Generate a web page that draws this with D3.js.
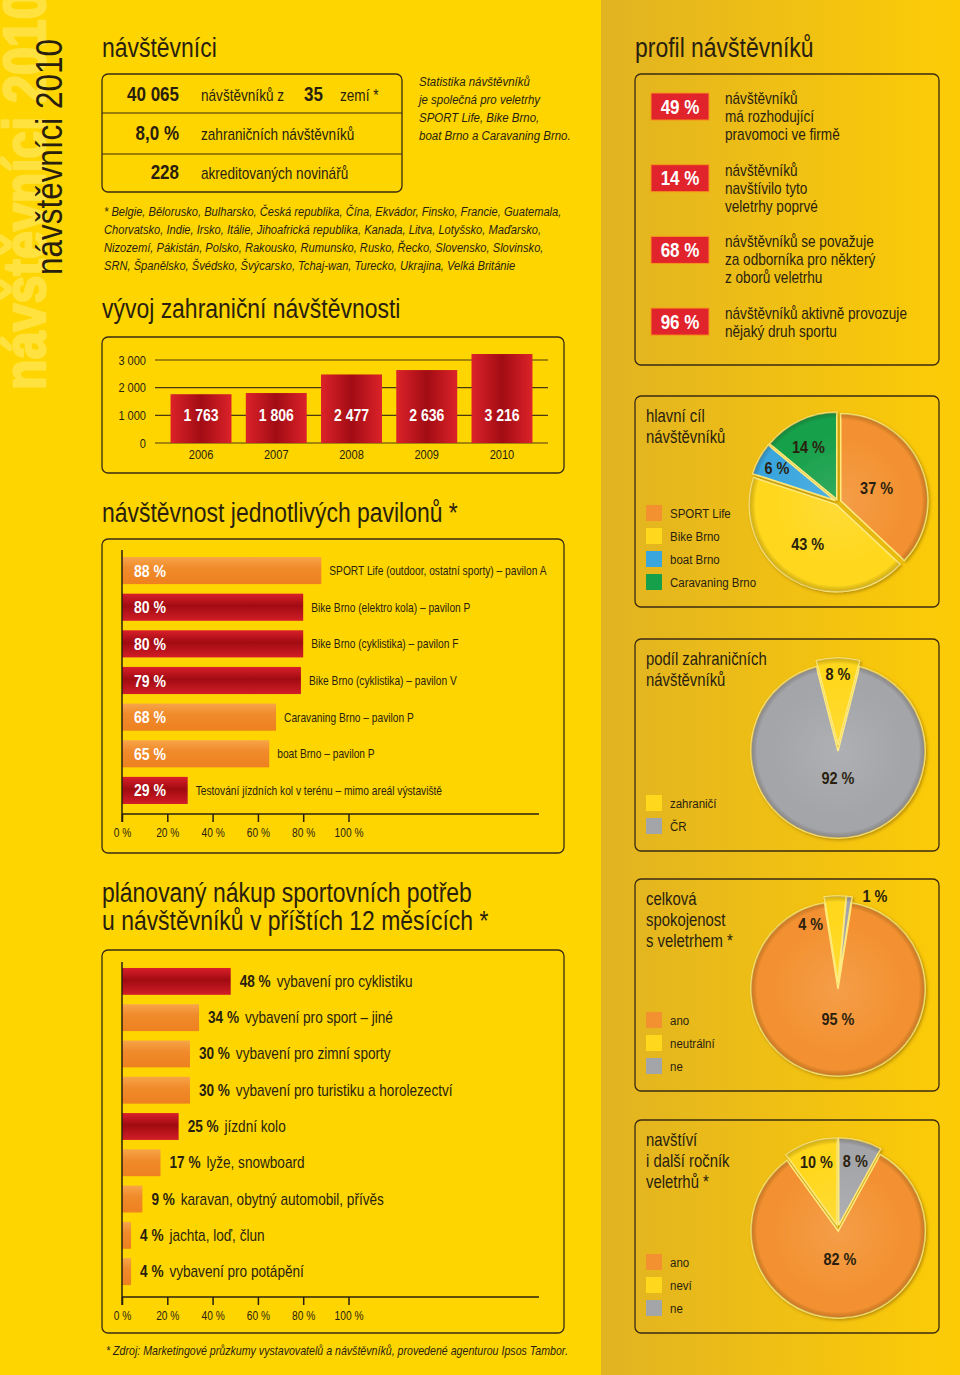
<!DOCTYPE html>
<html>
<head>
<meta charset="utf-8">
<script src="https://cdnjs.cloudflare.com/ajax/libs/d3/7.8.5/d3.min.js"></script>
<style>
body { margin: 0; background: #FFD500; }
svg { display: block; font-family: "Liberation Sans", Arial, Helvetica, sans-serif; }
</style>
</head>
<body>
<div id="sheet"></div>
<script>
var statNumbers = ["40 065", "8,0 %", "228"];
var statTexts = ["návštěvníků z", "zahraničních návštěvníků", "akreditovaných novinářů"];
var countryCount = "35";
var statNote = ["Statistika návštěvníků", "je společná pro veletrhy", "SPORT Life, Bike Brno,", "boat Brno a Caravaning Brno."];
var countryLines = [
  "* Belgie, Bělorusko, Bulharsko, Česká republika, Čína, Ekvádor, Finsko, Francie, Guatemala,",
  "Chorvatsko, Indie, Irsko, Itálie, Jihoafrická republika, Kanada, Litva, Lotyšsko, Maďarsko,",
  "Nizozemí, Pákistán, Polsko, Rakousko, Rumunsko, Rusko, Řecko, Slovensko, Slovinsko,",
  "SRN, Španělsko, Švédsko, Švýcarsko, Tchaj-wan, Turecko, Ukrajina, Velká Británie"
];

var years = ["2006", "2007", "2008", "2009", "2010"];
var foreignVisitors = [1763, 1806, 2477, 2636, 3216];
var visitorTicks = [0, 1000, 2000, 3000];

var pavilionNames = [
  "SPORT Life (outdoor, ostatní sporty) – pavilon A",
  "Bike Brno (elektro kola) – pavilon P",
  "Bike Brno (cyklistika) – pavilon F",
  "Bike Brno (cyklistika) – pavilon V",
  "Caravaning Brno – pavilon P",
  "boat Brno – pavilon P",
  "Testování jízdních kol v terénu – mimo areál výstaviště"
];
var pavilionValues = [88, 80, 80, 79, 68, 65, 29];
var pavilionBike = [false, true, true, true, false, false, true];

var purchaseNames = [
  "vybavení pro cyklistiku",
  "vybavení pro sport – jiné",
  "vybavení pro zimní sporty",
  "vybavení pro turistiku a horolezectví",
  "jízdní kolo",
  "lyže, snowboard",
  "karavan, obytný automobil, přívěs",
  "jachta, loď, člun",
  "vybavení pro potápění"
];
var purchaseValues = [48, 34, 30, 30, 25, 17, 9, 4, 4];
var purchaseBike = [true, false, false, false, true, false, false, false, false];

var percentTicks = [0, 20, 40, 60, 80, 100];

var profileValues = [49, 14, 68, 96];
var profileTexts = [
  ["návštěvníků", "má rozhodující", "pravomoci ve firmě"],
  ["návštěvníků", "navštívilo tyto", "veletrhy poprvé"],
  ["návštěvníků se považuje", "za odborníka pro některý", "z oborů veletrhu"],
  ["návštěvníků aktivně provozuje", "nějaký druh sportu"]
];

var goalNames = ["SPORT Life", "Bike Brno", "boat Brno", "Caravaning Brno"];
var goalValues = [37, 43, 6, 14];
var shareNames = ["zahraničí", "ČR"];
var shareValues = [8, 92];
var satisfactionNames = ["ano", "neutrální", "ne"];
var satisfactionValues = [95, 4, 1];
var returnNames = ["ano", "neví", "ne"];
var returnValues = [82, 10, 8];

// ---- look ----
var ink = "#2a1f0e";
var narrow = 0.85;   // condensed look
var orange = "#F39130", yellow = "#FFD71C", blue = "#3AA6DE", green = "#17A04A", grey = "#A4A5A9";

var svg = d3.select("#sheet").append("svg").attr("width", 960).attr("height", 1375);
var defs = svg.append("defs");

function linGrad(id, x2, y2, stops) {
  var g = defs.append("linearGradient").attr("id", id)
    .attr("x1", 0).attr("y1", 0).attr("x2", x2).attr("y2", y2);
  stops.forEach(function(s) { g.append("stop").attr("offset", s[0]).attr("stop-color", s[1]); });
}
linGrad("rightBg", 1, 0, [[0, "#E1B322"], [1, "#FDCC06"]]);
linGrad("redCol", 1, 0, [[0, "#DC2229"], [0.5, "#A20C14"], [1, "#DC2229"]]);
linGrad("redRow", 0, 1, [[0, "#D91F2A"], [0.45, "#A10B12"], [1, "#D21D27"]]);
linGrad("orangeRow", 0, 1, [[0, "#F7A548"], [0.4, "#F08B2C"], [1, "#EE801F"]]);

var shade = defs.append("radialGradient").attr("id", "pieShade")
  .attr("gradientUnits", "userSpaceOnUse").attr("cx", 0).attr("cy", 0).attr("r", 88);
shade.append("stop").attr("offset", 0).attr("stop-color", "#fff").attr("stop-opacity", 0.12);
shade.append("stop").attr("offset", 0.75).attr("stop-color", "#fff").attr("stop-opacity", 0);
shade.append("stop").attr("offset", 0.92).attr("stop-color", "#000").attr("stop-opacity", 0);
shade.append("stop").attr("offset", 1).attr("stop-color", "#5a3a00").attr("stop-opacity", 0.3);

var shadow = defs.append("filter").attr("id", "pieShadow").attr("x", "-20%").attr("y", "-20%").attr("width", "140%").attr("height", "140%");
shadow.append("feDropShadow").attr("dx", 1.5).attr("dy", 1.5).attr("stdDeviation", 1.5)
  .attr("flood-color", "#6b4a00").attr("flood-opacity", 0.45);

// backgrounds
svg.append("rect").attr("width", 601).attr("height", 1375).attr("fill", "#FFD500");
svg.append("rect").attr("x", 601).attr("width", 359).attr("height", 1375).attr("fill", "url(#rightBg)");

function txt(parent, x, y, s, size, opt) {
  opt = opt || {};
  return parent.append("text")
    .attr("transform", "translate(" + x + "," + y + ") scale(" + narrow + ",1)")
    .attr("font-size", size)
    .attr("font-weight", opt.weight || "normal")
    .attr("font-style", opt.italic ? "italic" : "normal")
    .attr("text-anchor", opt.anchor || "start")
    .attr("fill", opt.fill || ink)
    .text(s);
}

function box(x0, y0, x1, y1) {
  svg.append("rect").attr("x", x0).attr("y", y0)
    .attr("width", x1 - x0).attr("height", y1 - y0).attr("rx", 6)
    .attr("fill", "none").attr("stroke", "#3a2b12").attr("stroke-width", 1.3);
}

// vertical title on the left edge (the pale one runs off the top like in print)
svg.append("text")
  .attr("transform", "translate(45,390) rotate(-90) scale(" + narrow + ",1)")
  .attr("font-size", 59).attr("font-weight", "bold").attr("fill", "#FFE23F")
  .attr("stroke", "#FFE23F").attr("stroke-width", 2.5).attr("stroke-linejoin", "round")
  .text("návštěvníci 2010");
svg.append("text")
  .attr("transform", "translate(62,275) rotate(-90) scale(" + narrow + ",1)")
  .attr("font-size", 37).attr("fill", ink)
  .text("návštěvníci 2010");

// headings
txt(svg, 102, 57, "návštěvníci", 27);
txt(svg, 102, 318, "vývoj zahraniční návštěvnosti", 27);
txt(svg, 102, 522, "návštěvnost jednotlivých pavilonů *", 27);
txt(svg, 102, 902, "plánovaný nákup sportovních potřeb", 27);
txt(svg, 102, 930, "u návštěvníků v příštích 12 měsících *", 27);
txt(svg, 635, 57, "profil návštěvníků", 27);

// ---- key numbers ----
box(102, 74, 402, 192);
[113, 154].forEach(function(y) {
  svg.append("line").attr("x1", 102).attr("x2", 402).attr("y1", y).attr("y2", y)
    .attr("stroke", "#3a2b12").attr("stroke-width", 1.2);
});
var statY = d3.scaleBand().domain(d3.range(3)).range([74, 192]);
statNumbers.forEach(function(n, i) {
  var base = statY(i) + statY.bandwidth() / 2 + 7;
  txt(svg, 179, base, n, 20, {weight: "bold", anchor: "end"});
  txt(svg, 201, base, statTexts[i], 16);
  if (i == 0) {
    txt(svg, 304, base, countryCount, 20, {weight: "bold"});
    txt(svg, 340, base, "zemí *", 16);
  }
});
statNote.forEach(function(s, i) { txt(svg, 419, 86 + i * 18, s, 13.5, {italic: true}); });
countryLines.forEach(function(s, i) { txt(svg, 104, 216 + i * 18, s, 13.1, {italic: true}); });

// ---- foreign visitors by year ----
box(102, 337, 564, 473);
var fmt = d3.formatLocale({decimal: ",", thousands: " ", grouping: [3], currency: ["", ""]}).format(",");
var xYear = d3.scaleBand().domain(years).range([163.4, 539.6]).paddingInner(0.19).paddingOuter(0.095);
var yVis = d3.scaleLinear().domain([0, 3000]).range([443, 360]);

var gV = svg.append("g");
gV.selectAll(".grid").data(visitorTicks).join("line")
  .attr("class", "grid")
  .attr("x1", 155).attr("x2", 548)
  .attr("y1", function(d) { return yVis(d); })
  .attr("y2", function(d) { return yVis(d); })
  .attr("stroke", "#4a3812").attr("stroke-width", 1.2);
visitorTicks.forEach(function(t) { txt(gV, 146, yVis(t) + 4.5, fmt(t), 13, {anchor: "end"}); });

gV.selectAll(".yearBar").data(foreignVisitors).join("rect")
  .attr("class", "yearBar")
  .attr("x", function(d, i) { return xYear(years[i]); })
  .attr("y", function(d) { return yVis(d); })
  .attr("width", xYear.bandwidth())
  .attr("height", function(d) { return yVis(0) - yVis(d); })
  .attr("fill", "url(#redCol)");
foreignVisitors.forEach(function(v, i) {
  var cx = xYear(years[i]) + xYear.bandwidth() / 2;
  txt(gV, cx, yVis(1000) + 6, fmt(v), 16.5, {weight: "bold", anchor: "middle", fill: "#fff"});
  txt(gV, cx, 459, years[i], 13, {anchor: "middle"});
});

// ---- horizontal percentage bars ----
var xPct = d3.scaleLinear().domain([0, 100]).range([122, 348.5]);

function pctAxis(axisTop, axisY) {
  var ax = svg.append("g").attr("transform", "translate(0," + axisY + ")")
    .call(d3.axisBottom(xPct).tickValues(percentTicks).tickSize(8).tickSizeOuter(0).tickPadding(6.5)
      .tickFormat(function(d) { return d + " %"; }));
  ax.attr("font-family", null).attr("font-size", 12);
  ax.select(".domain").remove();
  ax.selectAll("line").attr("stroke", ink).attr("stroke-width", 1.5);
  ax.selectAll("text").attr("fill", ink).attr("transform", "scale(" + narrow + ",1)");
  svg.append("line").attr("x1", 122).attr("x2", 539).attr("y1", axisY).attr("y2", axisY)
    .attr("stroke", ink).attr("stroke-width", 1.5);
  svg.append("line").attr("x1", 122).attr("x2", 122).attr("y1", axisTop).attr("y2", axisY + 8)
    .attr("stroke", ink).attr("stroke-width", 1.5);
}

// pavilions
box(102, 539, 564, 853);
var yPav = d3.scaleBand().domain(d3.range(pavilionValues.length)).range([552, 809])
  .paddingInner(0.26).paddingOuter(0.137);
var gP = svg.append("g");
gP.selectAll("rect").data(pavilionValues).join("rect")
  .attr("x", xPct(0))
  .attr("y", function(d, i) { return yPav(i); })
  .attr("width", function(d) { return xPct(d) - xPct(0); })
  .attr("height", yPav.bandwidth())
  .attr("fill", function(d, i) { return pavilionBike[i] ? "url(#redRow)" : "url(#orangeRow)"; });
pavilionValues.forEach(function(v, i) {
  var cy = yPav(i) + yPav.bandwidth() / 2;
  txt(gP, 134, cy + 6, v + " %", 16.5, {weight: "bold", fill: "#fff"});
  txt(gP, xPct(v) + 8, cy + 4.5, pavilionNames[i], 12);
});
pctAxis(550, 814);

// planned purchases
box(102, 950, 564, 1333);
var yBuy = d3.scaleBand().domain(d3.range(purchaseValues.length)).range([963, 1290])
  .paddingInner(0.26).paddingOuter(0.137);
var gB = svg.append("g");
gB.selectAll("rect").data(purchaseValues).join("rect")
  .attr("x", xPct(0))
  .attr("y", function(d, i) { return yBuy(i); })
  .attr("width", function(d) { return xPct(d) - xPct(0); })
  .attr("height", yBuy.bandwidth())
  .attr("fill", function(d, i) { return purchaseBike[i] ? "url(#redRow)" : "url(#orangeRow)"; });
purchaseValues.forEach(function(v, i) {
  var cy = yBuy(i) + yBuy.bandwidth() / 2;
  var t = txt(gB, xPct(v) + 9, cy + 5.5, "", 16);
  t.append("tspan").attr("font-weight", "bold").text(v + " %");
  t.append("tspan").attr("dx", 7).text(purchaseNames[i]);
});
pctAxis(962, 1297);

txt(svg, 106, 1355, "* Zdroj: Marketingové průzkumy vystavovatelů a návštěvníků, provedené agenturou Ipsos Tambor.", 12.5, {italic: true});

// ---- visitor profile ----
box(635, 74, 939, 365);
var yProf = d3.scaleBand().domain(d3.range(profileValues.length)).range([93, 335.1]).paddingInner(0.623);
var gF = svg.append("g");
gF.selectAll("rect").data(profileValues).join("rect")
  .attr("x", 651).attr("y", function(d, i) { return yProf(i); })
  .attr("width", 58).attr("height", yProf.bandwidth())
  .attr("fill", "#E1232B").attr("stroke", "#F7941D").attr("stroke-width", 1);
profileValues.forEach(function(v, i) {
  var top = yProf(i);
  txt(gF, 680, top + 20.5, v + " %", 20, {weight: "bold", anchor: "middle", fill: "#fff"});
  profileTexts[i].forEach(function(s, j) { txt(gF, 725, top + 11 + j * 18, s, 16); });
});

// ---- pies ----
function pieBox(cfg) {
  box(635, cfg.top, 939, cfg.bottom);
  cfg.title.forEach(function(s, j) { txt(svg, 646, cfg.top + 26 + j * 21, s, 17.5); });

  var n = cfg.names.length;
  var legTop = cfg.bottom - 17 - 16 - 23 * (n - 1);
  cfg.names.forEach(function(s, i) {
    svg.append("rect").attr("x", 646).attr("y", legTop + i * 23).attr("width", 16).attr("height", 16)
      .attr("fill", cfg.colors[i]);
    txt(svg, 670, legTop + i * 23 + 12.5, s, 13.5);
  });

  var r = 87, start = cfg.start * 2 * Math.PI;
  var pie = d3.pie().sort(null).startAngle(start).endAngle(start + 2 * Math.PI);
  var arc = d3.arc().innerRadius(0).outerRadius(r);
  var arcs = pie(cfg.values);
  var g = svg.append("g").attr("transform", "translate(" + cfg.cx + "," + cfg.cy + ")")
    .attr("filter", "url(#pieShadow)");
  var slice = g.selectAll(".slice").data(arcs).join("g")
    .attr("class", "slice")
    .attr("transform", function(d) {
      var m = (d.startAngle + d.endAngle) / 2;
      return "translate(" + (Math.sin(m) * 3) + "," + (-Math.cos(m) * 3) + ")";
    });
  slice.append("path").attr("d", arc)
    .attr("fill", function(d, i) { return cfg.colors[i]; })
    .attr("stroke", "#FFE97A").attr("stroke-width", 1.5);
  slice.append("path").attr("d", arc).attr("fill", "url(#pieShade)");

  arcs.forEach(function(d, i) {
    var spot = cfg.spots[i];
    var a = (d.startAngle + d.endAngle) / 2 + spot[1] * Math.PI / 180;
    var lx = cfg.cx + Math.sin(a) * r * spot[0];
    var ly = cfg.cy - Math.cos(a) * r * spot[0];
    txt(svg, lx, ly + 6, d.data + " %", 17, {weight: "bold", anchor: "middle"});
  });
}

pieBox({top: 396, bottom: 607, cx: 838, cy: 502, start: 0,
  title: ["hlavní cíl", "návštěvníků"], names: goalNames, values: goalValues,
  colors: [orange, yellow, blue, green],
  spots: [[0.47, 4], [0.6, 5], [0.8, 0], [0.72, -3]]});
pieBox({top: 639, bottom: 851, cx: 838, cy: 748, start: -0.04,
  title: ["podíl zahraničních", "návštěvníků"], names: shareNames, values: shareValues,
  colors: [yellow, grey],
  spots: [[0.85, 0], [0.35, 0]]});
pieBox({top: 879, bottom: 1091, cx: 838, cy: 986, start: 0.025,
  title: ["celková", "spokojenost", "s veletrhem *"], names: satisfactionNames, values: satisfactionValues,
  colors: [orange, yellow, grey],
  spots: [[0.38, 0], [0.78, -22], [1.12, 15]]});
pieBox({top: 1120, bottom: 1333, cx: 838, cy: 1228, start: 0.08,
  title: ["navštíví", "i další ročník", "veletrhů *"], names: returnNames, values: returnValues,
  colors: [orange, yellow, grey],
  spots: [[0.36, 0], [0.8, 0], [0.8, 0]]});
</script>
</body>
</html>
